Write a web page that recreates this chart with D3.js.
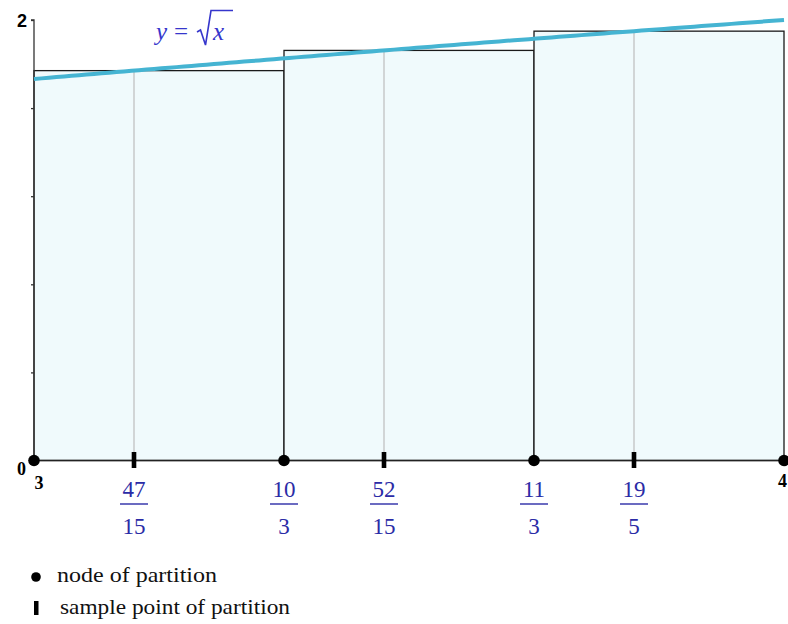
<!DOCTYPE html>
<html>
<head>
<meta charset="utf-8">
<script src="https://cdn.jsdelivr.net/npm/d3@7"></script>
<style>
  html, body { margin: 0; padding: 0; background: #fff; }
  svg { display: block; }
</style>
</head>
<body>
<svg id="chart" width="788" height="624"></svg>
<script>
// Riemann sum of y = sqrt(x) on [3, 4] with three subintervals
const nodes = [3, 10 / 3, 11 / 3, 4];
const samplePoints = [47 / 15, 52 / 15, 19 / 5];
const sampleLabels = [["47", "15"], ["52", "15"], ["19", "5"]];
const nodeLabels = [null, ["10", "3"], ["11", "3"], null];
const barHeights = samplePoints.map(Math.sqrt);      // f(sample point)
const curveX = d3.range(0, 101).map(i => 3 + i / 100); // sampling of the curve
const yTicks = [0, 0.4, 0.8, 1.2, 1.6, 2];

const svg = d3.select("#chart");
const x = d3.scaleLinear().domain([3, 4]).range([34, 784]);
const y = d3.scaleLinear().domain([0, 2]).range([460.5, 20]);

const serif = "'Liberation Serif', 'Times New Roman', serif";
const blue = "#2b2ba6";

// bars
svg.append("g").selectAll("rect")
  .data(barHeights)
  .join("rect")
  .attr("x", (d, i) => x(nodes[i]))
  .attr("y", d => y(d))
  .attr("width", (d, i) => x(nodes[i + 1]) - x(nodes[i]))
  .attr("height", d => y(0) - y(d))
  .attr("fill", "#f0fafc")
  .attr("stroke", "#1a1a1a")
  .attr("stroke-width", 1.3);

// sample point guide lines
svg.append("g").selectAll("line")
  .data(samplePoints)
  .join("line")
  .attr("x1", d => x(d)).attr("x2", d => x(d))
  .attr("y1", d => y(Math.sqrt(d)) + 1).attr("y2", y(0))
  .attr("stroke", "#bdbdbd").attr("stroke-width", 1.2);

// y axis
const yAxis = d3.axisLeft(y).tickValues(yTicks).tickSize(3).tickFormat("");
const gy = svg.append("g").attr("transform", `translate(${x(3)},0)`).call(yAxis);
gy.select(".domain").attr("stroke", "#333").attr("stroke-width", 1.3).attr("d", `M-3,${y(2)}H0V${y(0)}`);
gy.selectAll(".tick line").attr("stroke", "#333").attr("stroke-width", 1.3);

// x axis baseline
svg.append("line")
  .attr("x1", x(3)).attr("x2", x(4))
  .attr("y1", y(0)).attr("y2", y(0))
  .attr("stroke", "#222").attr("stroke-width", 1.3);

// curve y = sqrt(x)
svg.append("path")
  .datum(curveX)
  .attr("d", d3.line().x(d => x(d)).y(d => y(Math.sqrt(d))))
  .attr("fill", "none")
  .attr("stroke", "#45b4d2")
  .attr("stroke-width", 4);

// curve label: y = √x with a drawn radical sign
const labColor = "#3636cc";
const lab = svg.append("g").attr("fill", labColor).attr("font-family", serif).attr("font-size", 25);
lab.append("text").attr("x", 156).attr("y", 40).attr("font-style", "italic").text("y");
lab.append("text").attr("x", 174).attr("y", 40).text("=");
lab.append("text").attr("x", 213).attr("y", 40).attr("font-style", "italic").text("x");
svg.append("path")
  .attr("d", "M197,32 L200.5,30 L205.5,45 L211,10.5 L233,10.5")
  .attr("fill", "none").attr("stroke", labColor).attr("stroke-width", 1.6)
  .attr("stroke-linejoin", "miter");

// bold axis numbers
const bold = "'Liberation Sans', Arial, sans-serif";
svg.append("text").attr("x", 27).attr("y", 27).attr("text-anchor", "end")
  .attr("font-family", bold).attr("font-weight", "bold").attr("font-size", 18).text("2");
svg.append("text").attr("x", 26).attr("y", 475).attr("text-anchor", "end")
  .attr("font-family", serif).attr("font-weight", "bold").attr("font-size", 18).text("0");
svg.append("text").attr("x", x(3) + 5).attr("y", 489).attr("text-anchor", "middle")
  .attr("font-family", serif).attr("font-weight", "bold").attr("font-size", 18).text("3");
svg.append("text").attr("x", 787).attr("y", 487).attr("text-anchor", "end")
  .attr("font-family", serif).attr("font-weight", "bold").attr("font-size", 18).text("4");

// node markers
svg.append("g").selectAll("circle")
  .data(nodes)
  .join("circle")
  .attr("cx", d => x(d)).attr("cy", y(0))
  .attr("r", 5.8).attr("fill", "#000");

// sample point markers
svg.append("g").selectAll("rect")
  .data(samplePoints)
  .join("rect")
  .attr("x", d => x(d) - 2.3).attr("y", 452)
  .attr("width", 4.6).attr("height", 16)
  .attr("fill", "#000");

// fraction labels
function fraction(g, cx, parts) {
  g.append("text").attr("x", cx).attr("y", 497).attr("text-anchor", "middle")
    .attr("font-family", serif).attr("font-size", 23).attr("fill", blue).text(parts[0]);
  g.append("line").attr("x1", cx - 14).attr("x2", cx + 14)
    .attr("y1", 504).attr("y2", 504).attr("stroke", blue).attr("stroke-width", 1.4);
  g.append("text").attr("x", cx).attr("y", 534).attr("text-anchor", "middle")
    .attr("font-family", serif).attr("font-size", 23).attr("fill", blue).text(parts[1]);
}
const fg = svg.append("g");
samplePoints.forEach((d, i) => fraction(fg, x(d), sampleLabels[i]));
nodes.forEach((d, i) => { if (nodeLabels[i]) fraction(fg, x(d), nodeLabels[i]); });

// legend
svg.append("circle").attr("cx", 36).attr("cy", 577).attr("r", 4.8).attr("fill", "#000");
svg.append("text").attr("x", 57).attr("y", 582)
  .attr("font-family", serif).attr("font-size", 21).attr("fill", "#111")
  .attr("textLength", 160).attr("lengthAdjust", "spacingAndGlyphs").text("node of partition");
svg.append("rect").attr("x", 34).attr("y", 601).attr("width", 4.5).attr("height", 14).attr("fill", "#000");
svg.append("text").attr("x", 60).attr("y", 614)
  .attr("font-family", serif).attr("font-size", 21).attr("fill", "#111")
  .attr("textLength", 230).attr("lengthAdjust", "spacingAndGlyphs").text("sample point of partition");
</script>
</body>
</html>
